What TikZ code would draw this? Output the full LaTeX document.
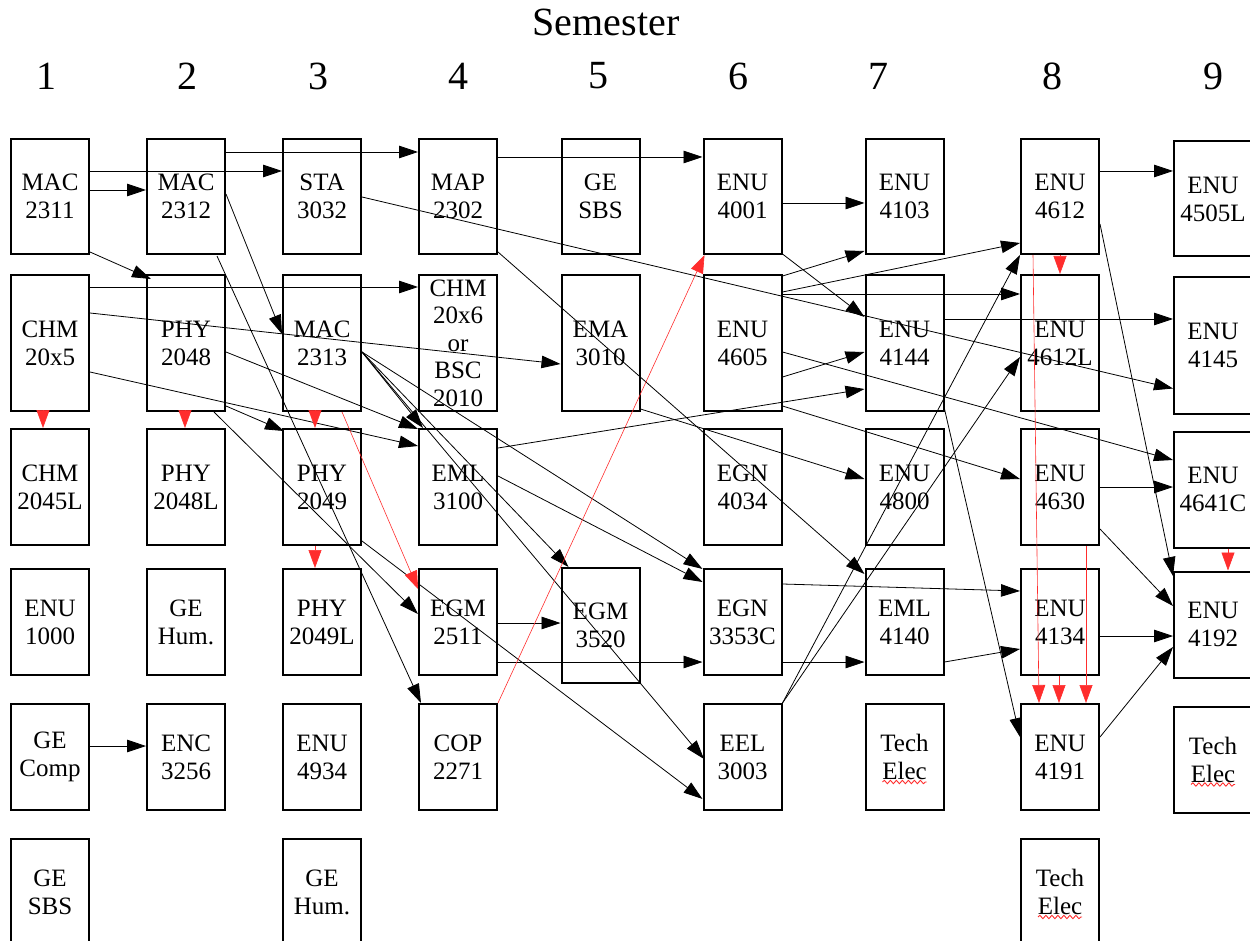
\documentclass[tikz,border=0pt]{standalone}
\usepackage{fontspec}
\setmainfont{Liberation Serif}
\usetikzlibrary{arrows.meta,calc,decorations.pathmorphing}
\definecolor{coreq}{RGB}{255,45,45}

\begin{document}
\begin{tikzpicture}[x=1pt,y=-1pt]
\tikzstyle{course} = [draw, line width=2pt, minimum width=78pt, inner sep=0pt, align=center, font=\fontsize{25}{28}\selectfont]
\tikzstyle{rowa} = [course, minimum height=115pt]
\tikzstyle{rowb} = [course, minimum height=136pt]
\tikzstyle{rowc} = [course, minimum height=116pt]
\tikzstyle{rowd} = [course, minimum height=106pt]
\tikzstyle{pre} = [line width=0.8pt, -{Triangle[length=19pt,width=12.5pt]}]
\tikzstyle{co} = [coreq, line width=0.6pt, -{Triangle[length=18pt,width=13pt]}]
\tikzstyle{squig} = [coreq, line width=0.9pt, decorate, decoration={snake, amplitude=1.7pt, segment length=6pt}]
\tikzstyle{head} = [font=\fontsize{40}{44}\selectfont]
\useasboundingbox (0,0) rectangle (1250,941);

\node[head] (semester) at (606,22) {Semester};
\foreach \x/\n in {46/1,187/2,318/3,458/4,598/5,738/6,878/7,1052/8,1213/9}
  \node[head] (sem\n) at (\x,76) {\n};

\node[rowa] (mac2311) at (50,196.5) {MAC\\2311};
\node[rowa] (mac2312) at (186,196.5) {MAC\\2312};
\node[rowa] (sta3032) at (322,196.5) {STA\\3032};
\node[rowa] (map2302) at (458,196.5) {MAP\\2302};
\node[rowa] (gesbs) at (600.5,196.5) {GE\\SBS};
\node[rowa] (enu4001) at (742.5,196.5) {ENU\\4001};
\node[rowa] (enu4103) at (904.5,196.5) {ENU\\4103};
\node[rowa] (enu4612) at (1060,196.5) {ENU\\4612};
\node[rowa] (enu4505l) at (1213,199) {ENU\\4505L};

\node[rowb] (chm20x5) at (50,343) {CHM\\20x5};
\node[rowb] (phy2048) at (186,343) {PHY\\2048};
\node[rowb] (mac2313) at (322,343) {MAC\\2313};
\node[rowb, font=\fontsize{25}{27.5}\selectfont] (chm20x6) at (458,343) {CHM\\20x6\\or\\BSC\\2010};
\node[rowb] (ema3010) at (600.5,343) {EMA\\3010};
\node[rowb] (enu4605) at (742.5,343) {ENU\\4605};
\node[rowb] (enu4144) at (904.5,343) {ENU\\4144};
\node[rowb] (enu4612l) at (1060,343) {ENU\\4612L};
\node[rowb] (enu4145) at (1213,345.5) {ENU\\4145};

\node[rowc] (chm2045l) at (50,487) {CHM\\2045L};
\node[rowc] (phy2048l) at (186,487) {PHY\\2048L};
\node[rowc] (phy2049) at (322,487) {PHY\\2049};
\node[rowc] (eml3100) at (458,487) {EML\\3100};
\node[rowc] (egn4034) at (742.5,487) {EGN\\4034};
\node[rowc] (enu4800) at (904.5,487) {ENU\\4800};
\node[rowc] (enu4630) at (1060,487) {ENU\\4630};
\node[rowc] (enu4641c) at (1213,489.5) {ENU\\4641C};

\node[rowd] (enu1000) at (50,622) {ENU\\1000};
\node[rowd] (gehum) at (186,622) {GE\\Hum.};
\node[rowd] (phy2049l) at (322,622) {PHY\\2049L};
\node[rowd] (egm2511) at (458,622) {EGM\\2511};
\node[rowa] (egm3520) at (600.5,625.5) {EGM\\3520};
\node[rowd] (egn3353c) at (742.5,622) {EGN\\3353C};
\node[rowd] (eml4140) at (904.5,622) {EML\\4140};
\node[rowd] (enu4134) at (1060,622) {ENU\\4134};
\node[rowd] (enu4192) at (1213,624.5) {ENU\\4192};

\node[rowd] (gecomp) at (50,757) {GE\\Comp};
\node[rowd] (enc3256) at (186,757) {ENC\\3256};
\node[rowd] (enu4934) at (322,757) {ENU\\4934};
\node[rowd] (cop2271) at (458,757) {COP\\2271};
\node[rowd] (eel3003) at (742.5,757) {EEL\\3003};
\node[rowd] (techelec) at (904.5,757) {Tech\\Elec};
\node[rowd] (enu4191) at (1060,757) {ENU\\4191};
\node[rowd] (techelecb) at (1213,759.5) {Tech\\Elec};

\node[rowd] (gesbsb) at (50,892) {GE\\SBS};
\node[rowd] (gehumb) at (322,892) {GE\\Hum.};
\node[rowd] (techelecc) at (1060,892) {Tech\\Elec};

\draw[squig] ($(techelec.center)+(-22,25)$) -- ++(44,0);
\draw[squig] ($(techelecb.center)+(-22,25)$) -- ++(44,0);
\draw[squig] ($(techelecc.center)+(-22,25)$) -- ++(44,0);

\draw[pre] ($(mac2311.north east)+(0,52)$) -- ($(mac2312.north west)+(0,52)$);
\draw[pre] ($(mac2311.north east)+(0,33)$) -- ($(sta3032.north west)+(0,33)$);
\draw[pre] ($(mac2312.north east)+(0,14)$) -- ($(map2302.north west)+(0,14)$);
\draw[pre] ($(mac2311.south east)+(0,-3)$) -- ($(phy2048.north west)+(5,5)$);
\draw[pre] ($(mac2312.north east)+(0,56)$) -- ($(mac2313.north west)+(0,60)$);
\draw[pre] ($(mac2312.south east)+(-9,1)$) -- ($(cop2271.north west)+(3,0)$);
\draw[pre] ($(sta3032.north east)+(0,59)$) -- ($(enu4145.north west)+(0,112)$);
\draw[pre] ($(map2302.north east)+(0,19)$) -- ($(enu4001.north west)+(0,19)$);
\draw[pre] ($(map2302.south east)+(0,-3)$) -- ($(eml4140.north west)+(0,6)$);
\draw[pre] ($(enu4001.north east)+(0,65)$) -- ($(enu4103.north west)+(0,65)$);
\draw[pre] ($(enu4001.south east)+(0,-1)$) -- ($(enu4144.north west)+(0,43)$);
\draw[pre] ($(enu4612.north east)+(0,33)$) -- ($(enu4505l.north west)+(0,30.5)$);
\draw[pre] ($(enu4612.north east)+(0,86)$) -- ($(enu4192.north west)+(0,5.5)$);

\draw[pre] ($(chm20x5.north east)+(0,13)$) -- ($(chm20x6.north west)+(0,13)$);
\draw[pre] ($(chm20x5.north east)+(0,39)$) -- ($(ema3010.north west)+(0,90)$);
\draw[pre] ($(chm20x5.north east)+(0,98)$) -- ($(eml3100.north west)+(0,18)$);
\draw[pre] ($(phy2048.north east)+(0,78)$) -- ($(eml3100.north west)+(0,1)$);
\draw[pre] ($(phy2048.south east)+(0,-6)$) -- ($(phy2049.north west)+(2,3)$);
\draw[pre] ($(phy2048.south east)+(-12,0)$) -- ($(egm2511.north west)+(0,46)$);
\draw[pre] ($(mac2313.north east)+(0,78)$) -- ($(eml3100.north west)+(5,0)$);
\draw[pre] ($(mac2313.north east)+(0,78)$) -- ($(egm3520.north west)+(8,0)$);
\draw[pre] ($(mac2313.north east)+(0,78)$) -- ($(egn3353c.north west)+(0,1)$);
\draw[pre] ($(mac2313.north east)+(0,78)$) -- ($(eel3003.north west)+(1.5,56)$);
\draw[pre] ($(phy2049.south east)+(0,-5)$) -- ($(eel3003.north west)+(0,96)$);
\draw[pre] ($(eml3100.north east)+(0,20)$) -- ($(enu4144.north west)+(0,115)$);
\draw[pre] ($(eml3100.north east)+(0,48)$) -- ($(egn3353c.north west)+(0,14)$);
\draw[pre] ($(ema3010.south east)+(0,-3)$) -- ($(enu4800.north west)+(0,51)$);
\draw[pre] ($(enu4605.north east)+(0,20)$) -- ($(enu4612l.north west)+(0,20)$);
\draw[pre] ($(enu4605.north east)+(0,18)$) -- ($(enu4612.south west)+(0,-12)$);
\draw[pre] ($(enu4605.north east)+(0,2)$) -- ($(enu4103.south west)+(0,-4)$);
\draw[pre] ($(enu4605.north east)+(0,103)$) -- ($(enu4144.north west)+(0,78)$);
\draw[pre] ($(enu4605.north east)+(0,78)$) -- ($(enu4641c.north west)+(0,29.5)$);
\draw[pre] ($(enu4605.south east)+(0,-6)$) -- ($(enu4630.north west)+(0,51)$);
\draw[pre] ($(enu4144.north east)+(0,45)$) -- ($(enu4145.north west)+(0,42.5)$);
\draw[pre] ($(enu4144.south east)+(0,-3)$) -- ($(enu4191.north west)+(0,34)$);

\draw[pre] ($(egn3353c.north east)+(0,16)$) -- ($(enu4134.north west)+(0,23)$);
\draw[pre] ($(egn3353c.north east)+(0,94)$) -- ($(eml4140.north west)+(0,94)$);
\draw[pre] ($(egm2511.north east)+(0,55)$) -- ($(egm3520.north west)+(0,56)$);
\draw[pre] ($(egm2511.north east)+(0,94)$) -- ($(egn3353c.north west)+(0,94)$);
\draw[pre] ($(eml4140.north east)+(0,94)$) -- ($(enu4134.north west)+(0,81)$);
\draw[pre] (eel3003.north east) -- (enu4612.south west);
\draw[pre] (eel3003.north east) -- ($(enu4612l.north west)+(0,83)$);
\draw[pre] ($(enu4630.north east)+(0,59)$) -- ($(enu4641c.north west)+(0,56.5)$);
\draw[pre] ($(enu4630.north east)+(0,101)$) -- ($(enu4192.north west)+(0,35.5)$);
\draw[pre] ($(enu4134.north east)+(0,68)$) -- ($(enu4192.north west)+(0,65.5)$);
\draw[pre] ($(enu4191.north east)+(0,34)$) -- ($(enu4192.north west)+(0,76.5)$);
\draw[pre] ($(gecomp.north east)+(0,43)$) -- ($(enc3256.north west)+(0,43)$);

\draw[co] ($(chm20x5.south)+(-7,0)$) -- ($(chm2045l.north)+(-7,0)$);
\draw[co] ($(phy2048.south)+(-1,0)$) -- ($(phy2048l.north)+(-1,0)$);
\draw[co] ($(mac2313.south)+(-7,0)$) -- ($(phy2049.north)+(-7,0)$);
\draw[co] ($(phy2049.south)+(-7,0)$) -- ($(phy2049l.north)+(-7,0)$);
\draw[co] ($(mac2313.south)+(20,0)$) -- ($(egm2511.north west)+(0,21)$);
\draw[co] (cop2271.north east) -- ($(enu4001.south west)+(2,0)$);
\draw[co] (enu4612.south) -- (enu4612l.north);
\draw[co] ($(enu4612.south west)+(13,0)$) -- ($(enu4191.north west)+(19,0)$);
\draw[co] ($(enu4630.south)+(26,0)$) -- ($(enu4191.north)+(26,0)$);
\draw[co] ($(enu4134.south)+(-1,0)$) -- ($(enu4191.north)+(-1,0)$);
\draw[co] ($(enu4641c.south)+(15,0)$) -- ($(enu4192.north)+(15,0)$);
\end{tikzpicture}
\end{document}
